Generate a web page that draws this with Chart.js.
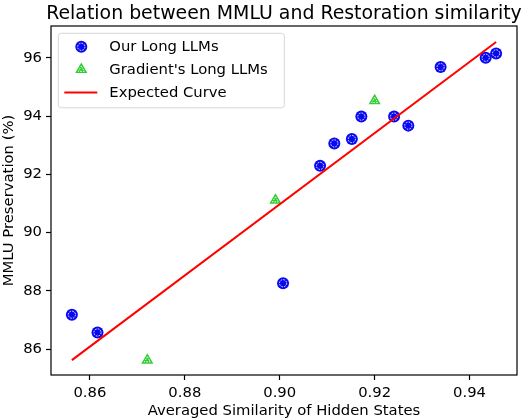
<!DOCTYPE html>
<html>
<head>
<meta charset="utf-8">
<script src="https://cdn.jsdelivr.net/npm/chart.js@4/dist/chart.umd.min.js"></script>
<style>
  body { margin: 0; background: #fff; }
  #wrap { width: 524px; height: 420px; }
</style>
</head>
<body>
<div id="wrap"><canvas id="c" width="524" height="420"></canvas></div>
<script>
const ourX = [0.8562, 0.8616, 0.9007, 0.9085, 0.9115, 0.9152, 0.9172, 0.9241, 0.9271, 0.9339, 0.9434, 0.9456];
const ourY = [87.18, 86.57, 88.26, 92.29, 93.06, 93.21, 93.98, 93.98, 93.67, 95.68, 96.00, 96.15];
const gradX = [0.8721, 0.8991, 0.9200];
const gradY = [85.62, 91.11, 94.52];
const curveX = [0.8562, 0.9456];
const curveY = [85.62, 96.54];
const xTicks = [0.86, 0.88, 0.90, 0.92, 0.94];
const yTicks = [86, 88, 90, 92, 94, 96];

const FONT = "'DejaVu Sans', sans-serif";
const pts = (xs, ys) => xs.map((x, i) => ({ x: x, y: ys[i] }));

function markerPath(ctx, style, x, y, r) {
  ctx.beginPath();
  if (style === 'triangle') {
    ctx.moveTo(x, y - r);
    ctx.lineTo(x + r * 0.87, y + r * 0.5);
    ctx.lineTo(x - r * 0.87, y + r * 0.5);
    ctx.closePath();
  } else {
    ctx.arc(x, y, r, 0, Math.PI * 2);
  }
}

function ring(ctx, style, x, y) {
  ctx.save();
  ctx.strokeStyle = '#fff';
  ctx.lineWidth = 0.9;
  ctx.setLineDash([1.6, 1.2]);
  markerPath(ctx, style, x, y, style === 'triangle' ? 3.4 : 3.6);
  ctx.stroke();
  ctx.restore();
}

// white dotted ring inside each marker, like the reference markers
const innerRing = {
  id: 'innerRing',
  afterDatasetDraw(chart, args) {
    const ds = chart.data.datasets[args.index];
    if (ds.type === 'line') return;
    args.meta.data.forEach(p => ring(chart.ctx, ds.pointStyle, p.x, p.y));
  }
};

// frame, title and legend drawn the way matplotlib lays them out
const frame = {
  id: 'frame',
  afterDraw(chart) {
    const ctx = chart.ctx;
    const a = chart.chartArea;
    ctx.save();
    ctx.strokeStyle = '#000';
    ctx.lineWidth = 1.2;
    ctx.strokeRect(a.left, a.top, a.right - a.left, a.bottom - a.top);

    ctx.fillStyle = '#000';
    ctx.font = '18.9px ' + FONT;
    ctx.textAlign = 'center';
    ctx.textBaseline = 'alphabetic';
    ctx.fillText('Relation between MMLU and Restoration similarity', (a.left + a.right) / 2, 18.7);

    // legend box
    const lx = a.left + 7.3, ly = a.top + 7.3, lw = 226, lh = 74.5;
    ctx.beginPath();
    ctx.roundRect(lx, ly, lw, lh, 3);
    ctx.fillStyle = 'rgba(255,255,255,0.8)';
    ctx.fill();
    ctx.strokeStyle = '#d6d6d6';
    ctx.lineWidth = 1;
    ctx.stroke();

    ctx.font = '14.8px ' + FONT;
    ctx.textAlign = 'left';
    ctx.textBaseline = 'middle';
    chart.data.datasets.forEach((ds, i) => {
      const cy = ly + 13.5 + i * 22.8;
      const mx = lx + 23;
      if (ds.type === 'line') {
        ctx.strokeStyle = ds.borderColor;
        ctx.lineWidth = 2;
        ctx.beginPath();
        ctx.moveTo(lx + 6, cy);
        ctx.lineTo(lx + 39, cy);
        ctx.stroke();
      } else {
        ctx.fillStyle = ds.backgroundColor;
        markerPath(ctx, ds.pointStyle, mx, cy, ds.pointRadius);
        ctx.fill();
        ring(ctx, ds.pointStyle, mx, cy);
      }
      ctx.fillStyle = '#000';
      ctx.fillText(ds.label, lx + 51, cy + 0.5);
    });
    ctx.restore();
  }
};

new Chart(document.getElementById('c').getContext('2d'), {
  type: 'scatter',
  data: {
    datasets: [
      {
        label: 'Our Long LLMs',
        data: pts(ourX, ourY),
        pointStyle: 'circle',
        pointRadius: 6,
        backgroundColor: '#0a0af0',
        borderWidth: 0,
        order: 2
      },
      {
        label: "Gradient's Long LLMs",
        data: pts(gradX, gradY),
        pointStyle: 'triangle',
        pointRadius: 7,
        backgroundColor: '#32cd32',
        borderWidth: 0,
        order: 1
      },
      {
        type: 'line',
        label: 'Expected Curve',
        data: pts(curveX, curveY),
        borderColor: '#ff0000',
        borderWidth: 2,
        pointRadius: 0,
        fill: false,
        order: 0
      }
    ]
  },
  options: {
    responsive: false,
    animation: false,
    devicePixelRatio: 1,
    layout: { padding: { top: 26, right: 4, left: 0, bottom: 0 } },
    plugins: {
      legend: { display: false },
      title: { display: false },
      tooltip: { enabled: false }
    },
    scales: {
      x: {
        type: 'linear',
        min: 0.8518,
        max: 0.9500,
        afterBuildTicks: s => { s.ticks = xTicks.map(v => ({ value: v })); },
        afterFit: s => { s.height = 45; },
        border: { display: false },
        grid: { drawOnChartArea: false, tickLength: 5, tickColor: '#000', tickWidth: 1.2 },
        ticks: {
          color: '#000',
          padding: 4,
          font: { family: FONT, size: 14.8 },
          callback: v => v.toFixed(2)
        },
        title: {
          display: true,
          text: 'Averaged Similarity of Hidden States',
          color: '#000',
          font: { family: FONT, size: 14.8 },
          padding: { top: 0, bottom: 0 }
        }
      },
      y: {
        min: 85.11,
        max: 97.09,
        afterBuildTicks: s => { s.ticks = yTicks.map(v => ({ value: v })); },
        afterFit: s => { s.width = 51; },
        border: { display: false },
        grid: { drawOnChartArea: false, tickLength: 5, tickColor: '#000', tickWidth: 1.2 },
        ticks: {
          color: '#000',
          padding: 4,
          font: { family: FONT, size: 14.8 },
          callback: v => String(v)
        },
        title: {
          display: true,
          text: 'MMLU Preservation (%)',
          color: '#000',
          font: { family: FONT, size: 14.8 },
          padding: { top: 0, bottom: 0 }
        }
      }
    }
  },
  plugins: [innerRing, frame]
});
</script>
</body>
</html>
